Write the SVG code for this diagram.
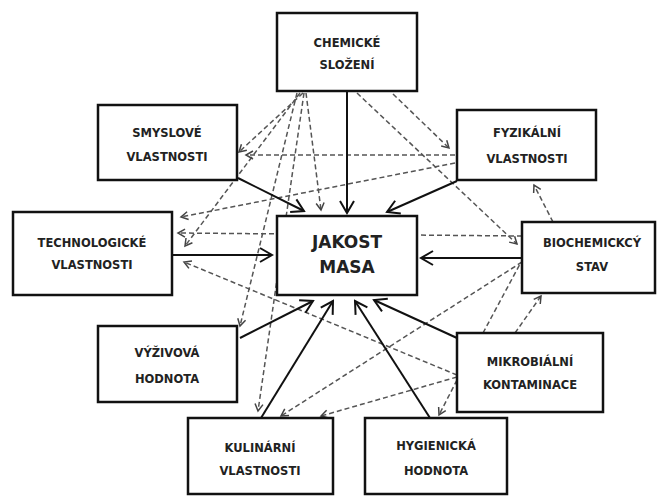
<svg xmlns="http://www.w3.org/2000/svg" width="658" height="497" viewBox="0 0 658 497">
<style>
.box{fill:#fff;stroke:#111;stroke-width:2.5}
.t{font-family:"DejaVu Sans",Verdana,sans-serif;font-weight:bold;font-size:11.5px;fill:#222;text-anchor:middle}
.big{font-family:"DejaVu Sans",Verdana,sans-serif;font-weight:bold;font-size:17px;fill:#222;text-anchor:middle}
.s{fill:none;stroke:#111;stroke-width:2;marker-end:url(#as)}
.d{fill:none;stroke:#555;stroke-width:1.5;stroke-dasharray:5 3;marker-end:url(#ad)}
</style>
<defs>
<marker id="as" markerUnits="userSpaceOnUse" viewBox="-14 -9 16 18" markerWidth="16" markerHeight="18" refX="0" refY="0" orient="auto">
<path d="M-12,-7 L0,0 L-12,7" fill="none" stroke="#111" stroke-width="2"/>
</marker>
<marker id="ad" markerUnits="userSpaceOnUse" viewBox="-9 -6 11 12" markerWidth="11" markerHeight="12" refX="0" refY="0" orient="auto">
<path d="M-7,-4 L0,0 L-7,4" fill="none" stroke="#444" stroke-width="1.5"/>
</marker>
</defs>
<rect width="658" height="497" fill="#fff"/>
<g id="connectors">
<!-- dashed -->
<path class="d" d="M303,93 L239,152"/>
<path class="d" d="M300,93 L185,246"/>
<path class="d" d="M297,93 L240,326"/>
<path class="d" d="M304,93 L258,411"/>
<path class="d" d="M306,93 L321,210"/>
<path class="d" d="M393,94 L449,148"/>
<path class="d" d="M357,93 L517,244"/>
<path class="d" d="M455,155 L246,155"/>
<path class="d" d="M455,163 L181,217"/>
<path class="d" d="M522,236 L178,233"/>
<path class="d" d="M457,375 L184,262"/>
<path class="d" d="M457,377 L321,416"/>
<path class="d" d="M457,380 L439,415"/>
<path class="d" d="M522,262 L281,416"/>
<path class="d" d="M483,333 L520,264" style="marker-end:none"/>
<path class="d" d="M515,333 L541,296"/>
<path class="d" d="M553,222 L534,185"/>
<!-- solid -->
<path class="s" d="M347,91 L347,213"/>
<path class="s" d="M238,178 L304,211"/>
<path class="s" d="M457,181 L387,212"/>
<path class="s" d="M173,255 L272,255"/>
<path class="s" d="M522,258 L421,258"/>
<path class="s" d="M240,338 L313,301"/>
<path class="s" d="M261,418 L333,301"/>
<path class="s" d="M430,418 L355,301"/>
<path class="s" d="M457,338 L374,300"/>
</g>
<g id="chemicke"><rect class="box" x="277" y="13" width="140" height="78"/><text class="t" x="347" y="47">CHEMICKÉ</text><text class="t" x="347" y="69">SLOŽENÍ</text></g>
<g id="smyslove"><rect class="box" x="98" y="105" width="139" height="75"/><text class="t" x="167" y="137">SMYSLOVÉ</text><text class="t" x="167" y="161">VLASTNOSTI</text></g>
<g id="fyzikalni"><rect class="box" x="457" y="110" width="139" height="70"/><text class="t" x="527" y="137">FYZIKÁLNÍ</text><text class="t" x="527" y="163">VLASTNOSTI</text></g>
<g id="technologicke"><rect class="box" x="13" y="212" width="159" height="83"/><text class="t" x="92" y="247">TECHNOLOGICKÉ</text><text class="t" x="92" y="269">VLASTNOSTI</text></g>
<g id="jakost"><rect class="box" x="277" y="216" width="140" height="79"/><text class="big" x="347" y="248">JAKOST</text><text class="big" x="347" y="273">MASA</text></g>
<g id="biochemicky"><rect class="box" x="522" y="222" width="133" height="71"/><text class="t" x="592" y="247">BIOCHEMICKCÝ</text><text class="t" x="592" y="271">STAV</text></g>
<g id="vyzivova"><rect class="box" x="98" y="326" width="139" height="76"/><text class="t" x="167" y="357">VÝŽIVOVÁ</text><text class="t" x="167" y="383">HODNOTA</text></g>
<g id="mikrobialni"><rect class="box" x="457" y="333" width="146" height="79"/><text class="t" x="530" y="366">MIKROBIÁLNÍ</text><text class="t" x="530" y="389">KONTAMINACE</text></g>
<g id="kulinarni"><rect class="box" x="188" y="418" width="145" height="76"/><text class="t" x="260" y="452">KULINÁRNÍ</text><text class="t" x="260" y="475">VLASTNOSTI</text></g>
<g id="hygienicka"><rect class="box" x="365" y="418" width="142" height="76"/><text class="t" x="436" y="450">HYGIENICKÁ</text><text class="t" x="436" y="475">HODNOTA</text></g>
</svg>
